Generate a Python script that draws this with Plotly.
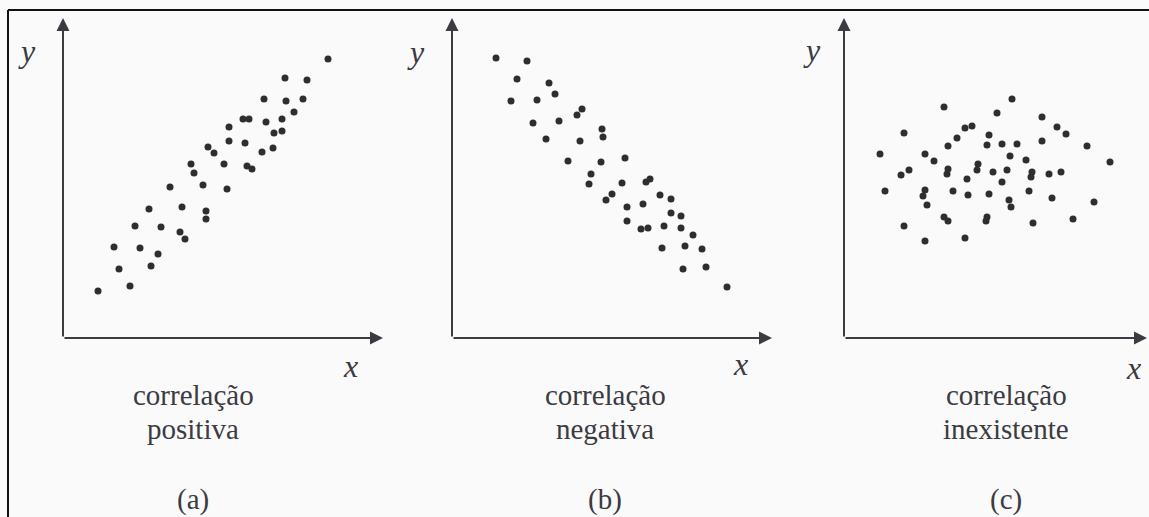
import plotly.graph_objects as go

W, H = 1149, 517

# (a) correlação positiva
pos_x = [265, 222, 244, 201, 223, 240, 231, 180, 186, 203, 219, 166, 211, 219, 145, 151, 166, 182, 199, 210,
         128, 131, 161, 184, 189, 107, 140, 164, 86, 119, 143, 143, 72, 98, 117, 122, 51, 77, 95, 88, 56, 67, 35]
pos_y = [279, 260, 258, 239, 237, 239, 226, 219, 219, 216, 219, 211, 205, 207, 191, 185, 197, 195, 186, 190,
         174, 165, 174, 172, 169, 151, 153, 149, 129, 131, 127, 119, 112, 111, 106, 99, 91, 90, 84, 72, 69, 52, 47]

# (b) correlação negativa
neg_x = [44, 75, 65, 97, 103, 59, 85, 125, 130, 81, 107, 150, 151, 94, 128, 116, 149, 173, 139, 137, 170, 194,
         198, 160, 154, 208, 219, 175, 191, 219, 229, 175, 189, 196, 212, 229, 241, 210, 233, 250, 231, 254, 275]
neg_y = [280, 277, 259, 255, 244, 237, 238, 223, 229, 215, 217, 209, 201, 199, 197, 177, 176, 180, 164, 154, 155, 156,
         159, 144, 138, 143, 139, 131, 134, 125, 122, 117, 109, 110, 112, 110, 103, 90, 92, 89, 69, 71, 51]

# (c) correlação inexistente
nul_x = [168, 100, 153, 198, 213, 222, 60, 121, 128, 113, 104, 145, 143, 158, 173, 198, 243, 36, 81, 90, 166, 182,
         266, 134, 133, 149, 163, 57, 65, 103, 104, 123, 158, 188, 187, 205, 217, 41, 81, 79, 83, 109, 124, 145,
         185, 208, 165, 167, 250, 100, 104, 143, 142, 189, 229, 60, 81, 121]
nul_y = [239, 231, 225, 221, 211, 204, 205, 210, 212, 200, 192, 203, 193, 194, 194, 197, 192, 184, 184, 177, 182, 178,
         176, 174, 168, 166, 168, 163, 168, 164, 169, 159, 156, 166, 161, 164, 166, 147, 148, 142, 133, 147, 143, 144,
         147, 140, 138, 131, 136, 121, 117, 121, 117, 115, 119, 112, 97, 100]

titles = [("correlação", "positiva", "(a)"), ("correlação", "negativa", "(b)"), ("correlação", "inexistente", "(c)")]

ink = "#3b3b42"
serif = "Liberation Serif"

# panel geometry in pixels: origin x, x-axis length, arrow tip
panels = [(63, 320, 320), (452, 320, 320), (844, 305, 303)]
origin_y, y_len = 338, 320

fig = go.Figure()
series = [(pos_x, pos_y), (neg_x, neg_y), (nul_x, nul_y)]
for i, ((xs, ys), (ox, xlen, tip)) in enumerate(zip(series, panels)):
    n = "" if i == 0 else str(i + 1)
    fig.add_trace(go.Scatter(x=xs, y=ys, mode="markers", xaxis="x" + n, yaxis="y" + n,
                             marker=dict(size=7, color="#2e2e2e"), showlegend=False, hoverinfo="skip"))
    fig.update_layout({
        "xaxis" + n: dict(domain=[ox / W, min((ox + xlen) / W, 1)], range=[0, xlen], visible=False,
                          anchor="y" + n),
        "yaxis" + n: dict(domain=[(H - origin_y) / H, (H - origin_y + y_len) / H], range=[0, y_len],
                          visible=False, anchor="x" + n),
    })
    # axes drawn as arrows
    for tx, ty in [(0, y_len), (tip, 0)]:
        fig.add_annotation(x=tx, y=ty, ax=0, ay=0, xref="x" + n, yref="y" + n, axref="x" + n, ayref="y" + n,
                           text="", showarrow=True, arrowhead=2, arrowsize=1.3, arrowwidth=2, arrowcolor=ink)

# labels, paper pixel positions
x_lbl = [(350, 366), (740, 364), (1133, 368)]
y_lbl = [(27, 51), (416, 52), (812, 50)]
centers = [193, 605, 1006]


def px(x, y):
    return x / W, 1 - y / H


for i in range(3):
    for (lx, ly), t in [(x_lbl[i], "x"), (y_lbl[i], "y")]:
        a, b = px(lx, ly)
        fig.add_annotation(x=a, y=b, xref="paper", yref="paper", text="<i>" + t + "</i>", showarrow=False,
                           font=dict(family=serif, size=32, color=ink), xanchor="center", yanchor="middle")
    for t, ly in zip(titles[i], [395, 429, 499]):
        a, b = px(centers[i], ly)
        fig.add_annotation(x=a, y=b, xref="paper", yref="paper", text=t, showarrow=False, borderpad=0,
                           font=dict(family=serif, size=29, color=ink), xanchor="center", yanchor="middle")

# scan frame (top and left edges)
fig.add_shape(type="line", xref="paper", yref="paper", x0=8 / W, x1=1, y0=1 - 10 / H, y1=1 - 10 / H,
              line=dict(color="#111", width=2))
fig.add_shape(type="line", xref="paper", yref="paper", x0=8 / W, x1=8 / W, y0=0, y1=1 - 10 / H,
              line=dict(color="#111", width=2))

fig.update_layout(width=W, height=H, margin=dict(l=0, r=0, t=0, b=0),
                  paper_bgcolor="#fafafa", plot_bgcolor="rgba(0,0,0,0)")

fig.write_html("out.html", config={"displayModeBar": False},
               post_script="document.body.style.margin='0';document.body.style.overflow='hidden';")
